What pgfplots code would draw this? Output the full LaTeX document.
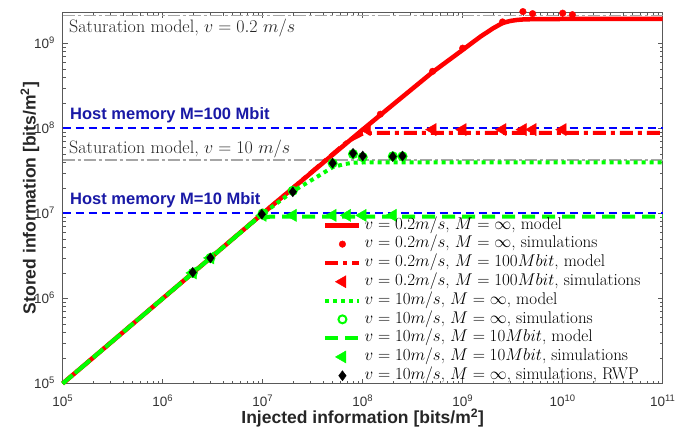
\RequirePackage{fix-cm}
\documentclass[border=0pt]{standalone}
\usepackage{pgfplots}
\pgfplotsset{compat=1.18}
\usepackage{fontspec}
\newfontfamily\hel{Liberation Sans}
\definecolor{lime}{rgb}{0,1,0}
\definecolor{hostblue}{rgb}{0.1,0.1,0.65}
\definecolor{satgray}{rgb}{0.65,0.65,0.65}
\definecolor{axgray}{rgb}{0.35,0.35,0.35}
\begin{document}
\begin{tikzpicture}
\begin{axis}[
  name=ax,
  xmode=log, ymode=log,
  scale only axis, width=600pt, height=370.8pt,
  xmin=1e5, xmax=1e11, ymin=1e5, ymax=2.3e9,
  clip=false,
  axis line style={axgray, line width=0.8pt},
  every tick/.style={axgray, line width=0.6pt},
  major tick length=5pt, minor tick length=3pt,
  xticklabel={\pgfmathparse{int(round(\tick/ln(10)))}10\textsuperscript{\pgfmathresult}},
  yticklabel={\pgfmathparse{int(round(\tick/ln(10)))}10\textsuperscript{\pgfmathresult}},
  tick label style={font=\hel\fontsize{13.5}{15}\selectfont, text=black!80, inner sep=0pt},
  xticklabel style={anchor=base, yshift=-23.2pt},
  yticklabel style={anchor=base east, xshift=-7.7pt, yshift=-4.8pt},
  xlabel={Injected information [bits/m\textsuperscript{2}]},
  ylabel={Stored information [bits/m\textsuperscript{2}]},
  label style={font=\hel\bfseries\fontsize{17.5}{19}\selectfont, text=black!85},
  xlabel style={at={(axis description cs:0.5,-0.1092)}, anchor=base},
  ylabel style={at={(axis description cs:-0.0453,0.5)}, anchor=base},
  legend cell align=left,
  legend style={at={(axis description cs:0.4338,0.452)}, anchor=north west,
    draw=none, fill=none, inner sep=0pt, row sep=0.3pt, column sep=2pt,
    font=\fontsize{17}{19}\selectfont,
    nodes={inner sep=1pt, text height=12pt, text depth=4.5pt}},
  legend image code/.code={\draw[mark repeat=2,mark phase=2,#1] plot coordinates {(0pt,0pt) (17pt,0pt) (34pt,0pt)};},
]
% reference lines (not in legend)
\addplot[forget plot, satgray, line width=1.5pt, dash pattern=on 12pt off 3pt on 3pt off 3pt] coordinates {(1e5,2.12e9) (1e11,2.12e9)};
\addplot[forget plot, satgray, line width=1.5pt, dash pattern=on 12pt off 3pt on 3pt off 3pt] coordinates {(1e5,4.26e7) (1e11,4.26e7)};
\addplot[forget plot, blue, line width=2pt, dash pattern=on 8pt off 5pt] coordinates {(1e5,1e8) (1e11,1e8)};
\addplot[forget plot, blue, line width=2pt, dash pattern=on 8pt off 5pt] coordinates {(1e5,1e7) (1e11,1e7)};

% v=0.2, M=inf, model
\addplot[red, line width=4.5pt, no marks] coordinates {
(1e5,1e5) (1e6,1e6) (1e7,1e7) (5e7,4.9e7) (1e8,9.7e7) (2e8,1.9e8) (5e8,4.6e8)
(1e9,8.4e8) (1.5e9,1.2e9) (2e9,1.5e9) (2.5e9,1.74e9) (3e9,1.84e9) (3.5e9,1.89e9)
(4e9,1.915e9) (5e9,1.93e9) (1e10,1.94e9) (1e11,1.94e9)};
\addlegendentry{$v=0.2m/s$, $M=\infty$, model}
% v=0.2, M=inf, simulations
\addplot[only marks, mark=*, mark size=3.3pt, mark options={draw=red, fill=red}] coordinates {
(1.5e8,1.47e8) (5e8,4.7e8) (1e9,8.8e8) (2.5e9,1.79e9) (4e9,2.37e9) (5e9,2.24e9) (1e10,2.27e9) (1.25e10,2.18e9)};
\addlegendentry{$v=0.2m/s$, $M=\infty$, simulations}
% v=0.2, M=100Mbit, model
\addplot[red, line width=4pt, no marks, dash pattern=on 13pt off 5pt on 4pt off 5pt] coordinates {
(1e5,1e5) (1e6,1e6) (1e7,1e7) (7e7,7e7) (1e8,8.7e7) (1.3e8,8.9e7) (1e11,8.9e7)};
\addlegendentry{$v=0.2m/s$, $M=100Mbit$, model}
% v=0.2, M=100Mbit, simulations
\addplot[only marks, mark=triangle*, mark size=7pt, mark options={rotate=90, draw=red, fill=red}] coordinates {
(1.1e8,9.7e7) (5e8,9.7e7) (1e9,9.7e7) (2.5e9,9.7e7) (4e9,9.7e7) (5e9,9.7e7) (1e10,9.7e7)};
\addlegendentry{$v=0.2m/s$, $M=100Mbit$, simulations}
% v=10, M=inf, model
\addplot[lime, line width=4pt, no marks, dash pattern=on 4pt off 4pt] coordinates {
(1e5,1e5) (1e6,1e6) (1e7,9.9e6) (2e7,1.82e7) (3.5e7,2.7e7) (5e7,3.5e7) (6.5e7,3.8e7)
(8e7,3.95e7) (1.2e8,4.0e7) (1e11,4.0e7)};
\addlegendentry{$v=10m/s$, $M=\infty$, model}
% v=10, M=inf, simulations
\addplot[only marks, mark=*, mark size=4pt, mark options={draw=lime, fill=white, line width=2pt}] coordinates {
(2e6,2e6) (3e6,3e6) (1e7,1e7) (2e7,1.85e7) (5e7,3.9e7) (8e7,5.0e7) (1e8,4.6e7) (2e8,4.7e7) (2.5e8,4.7e7)};
\addlegendentry{$v=10m/s$, $M=\infty$, simulations}
% v=10, M=10Mbit, model
\addplot[lime, line width=4pt, no marks, dash pattern=on 13pt off 7pt] coordinates {
(1e5,1e5) (1e6,1e6) (8.5e6,8.5e6) (1.2e7,9.2e6) (1e11,9.2e6)};
\addlegendentry{$v=10m/s$, $M=10Mbit$, model}
% v=10, M=10Mbit, simulations
\addplot[only marks, mark=triangle*, mark size=7pt, mark options={rotate=90, draw=lime, fill=lime}] coordinates {
(2e6,2e6) (3e6,3e6) (1e7,9.5e6) (2e7,9.5e6) (5e7,9.5e6) (7e7,9.5e6) (1e8,9.5e6) (2e8,9.5e6)};
\addlegendentry{$v=10m/s$, $M=10Mbit$, simulations}
% v=10, M=inf, simulations, RWP
\addplot[only marks, mark=diamond*, mark size=5pt, mark options={draw=black, fill=black}] coordinates {
(2e6,2.03e6) (3e6,3e6) (9.8e6,9.8e6) (2e7,1.8e7) (5e7,3.9e7) (8e7,5.1e7) (1e8,4.74e7) (2e8,4.66e7) (2.5e8,4.74e7)};
\addlegendentry{$v=10m/s$, $M=\infty$, simulations, RWP}

% annotations
\node[anchor=base west, font=\fontsize{18}{20}\selectfont, text=black!85, inner sep=0pt] at (axis description cs:0.0105,0.947) {Saturation model, $v = 0.2\ m/s$};
\node[anchor=base west, font=\fontsize{18}{20}\selectfont, text=black!85, inner sep=0pt] at (axis description cs:0.0105,0.6216) {Saturation model, $v = 10\ m/s$};
\node[anchor=base west, font=\hel\bfseries\fontsize{16.5}{18}\selectfont, text=hostblue, inner sep=0pt] at (axis description cs:0.0122,0.712) {Host memory M=100 Mbit};
\node[anchor=base west, font=\hel\bfseries\fontsize{16.5}{18}\selectfont, text=hostblue, inner sep=0pt] at (axis description cs:0.0122,0.4827) {Host memory M=10 Mbit};
\end{axis}
\pgfresetboundingbox
\path ([xshift=-62.7pt,yshift=-44.5pt]ax.south west) rectangle ([xshift=12.3pt,yshift=12.7pt]ax.north east);
\end{tikzpicture}
\end{document}
